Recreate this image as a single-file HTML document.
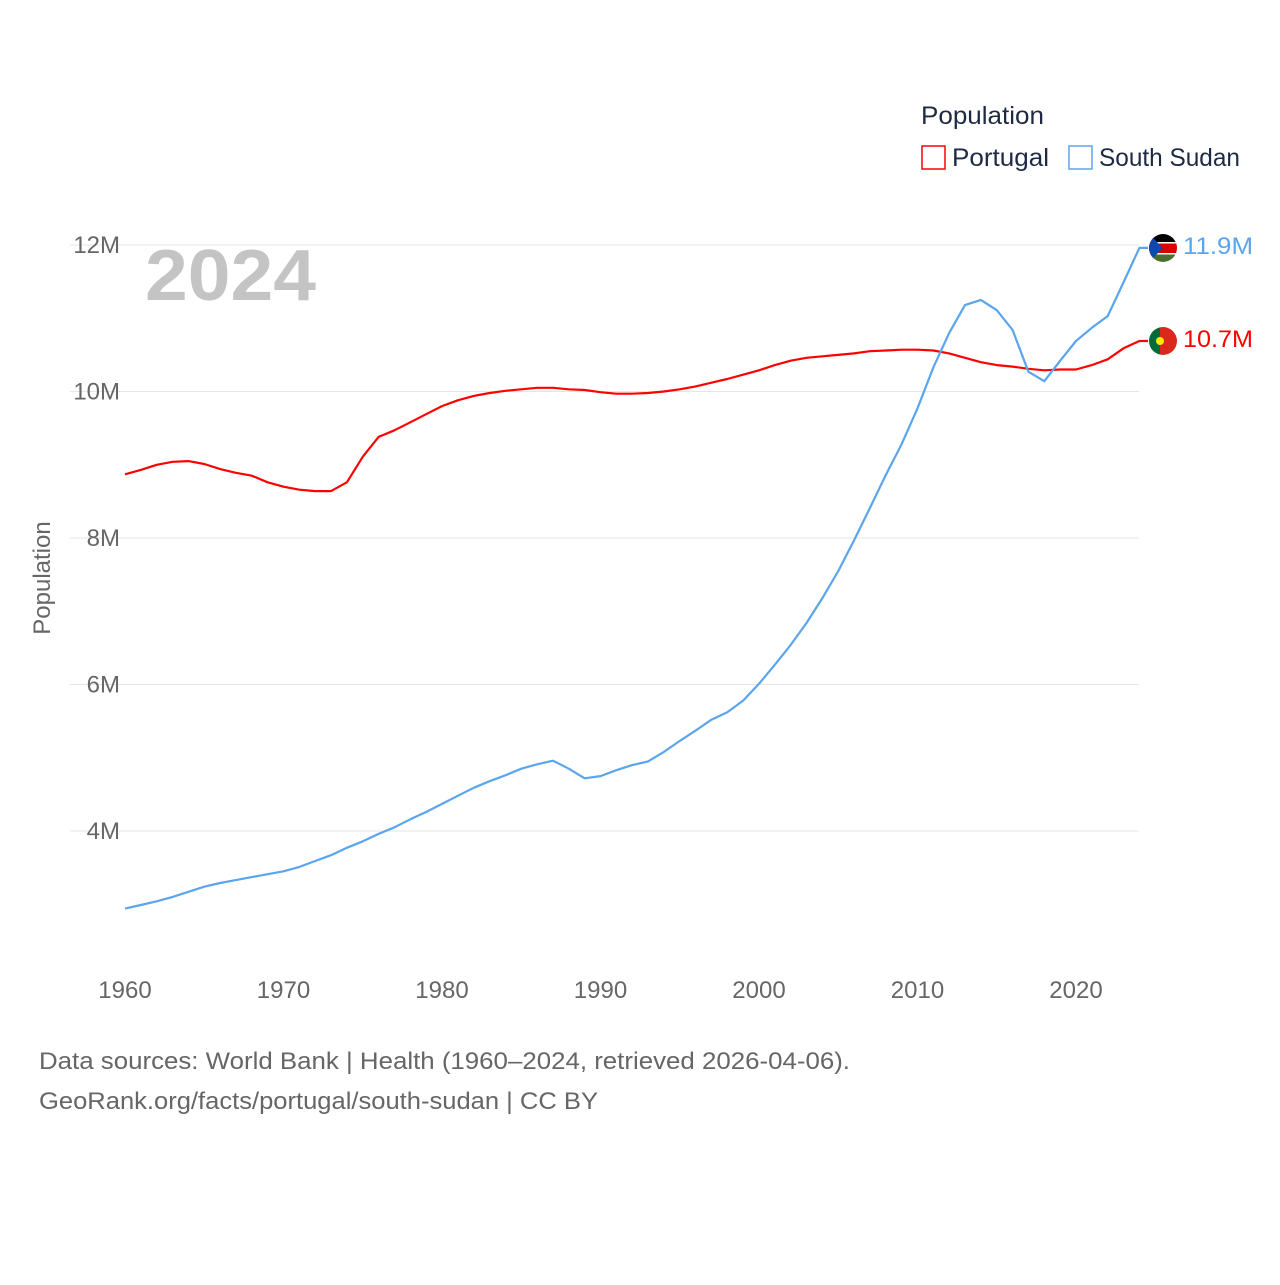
<!DOCTYPE html>
<html><head><meta charset="utf-8"><style>
body{margin:0;background:#fff;}
svg text{font-family:"Liberation Sans",sans-serif;}
</style></head><body>
<svg width="1280" height="1280" viewBox="0 0 1280 1280">
<g id="grid"></g>
<text x="145" y="300" font-size="72" font-weight="bold" fill="#c4c4c4" textLength="171" lengthAdjust="spacingAndGlyphs">2024</text>
<text transform="translate(50,578) rotate(-90)" text-anchor="middle" font-size="24" fill="#666">Population</text>
<g id="xticks"></g>
<g id="lines"></g>
<g>
<text x="921" y="124" font-size="25" fill="#1e2a44" textLength="123" lengthAdjust="spacingAndGlyphs">Population</text>
<rect x="922" y="146" width="23" height="23" fill="none" stroke="#f00" stroke-width="1.5"/>
<text x="952" y="166" font-size="25" fill="#1e2a44" textLength="97" lengthAdjust="spacingAndGlyphs">Portugal</text>
<rect x="1069" y="146" width="23" height="23" fill="none" stroke="#5aa5ee" stroke-width="1.5"/>
<text x="1099" y="166" font-size="25" fill="#1e2a44" textLength="141" lengthAdjust="spacingAndGlyphs">South Sudan</text>
</g>
<g>
<clipPath id="c1"><circle cx="1163" cy="248" r="14"/></clipPath>
<g clip-path="url(#c1)"><rect x="1149" y="234" width="28" height="9" fill="#000"/><rect x="1149" y="243" width="28" height="10" fill="#d00"/><rect x="1149" y="253" width="28" height="9" fill="#4a6e2e"/><rect x="1149" y="242" width="28" height="1.5" fill="#fff"/><rect x="1149" y="253" width="28" height="1.5" fill="#fff"/><polygon points="1149,234 1163,248 1149,262" fill="#0f47af"/></g>
</g>
<g>
<clipPath id="c2"><circle cx="1163" cy="341" r="14"/></clipPath>
<g clip-path="url(#c2)"><rect x="1149" y="327" width="11" height="28" fill="#046a38"/><rect x="1160" y="327" width="17" height="28" fill="#da291c"/><circle cx="1160" cy="341" r="4" fill="#ffe900"/></g>
</g>
<text x="1183" y="254" font-size="24" fill="#5aa5ee" textLength="70" lengthAdjust="spacingAndGlyphs">11.9M</text>
<text x="1183" y="347" font-size="24" fill="#f00" textLength="70" lengthAdjust="spacingAndGlyphs">10.7M</text>
<text x="39" y="1069" font-size="24" fill="#666" textLength="811" lengthAdjust="spacingAndGlyphs">Data sources: World Bank | Health (1960–2024, retrieved 2026-04-06).</text>
<text x="39" y="1109" font-size="24" fill="#666" textLength="559" lengthAdjust="spacingAndGlyphs">GeoRank.org/facts/portugal/south-sudan | CC BY</text>
</svg>
<script>
const years=[];for(let y=1960;y<=2024;y++)years.push(y);
const portugal=[8.87,8.93,9.0,9.04,9.05,9.01,8.94,8.89,8.85,8.76,8.70,8.66,8.64,8.64,8.76,9.11,9.38,9.47,9.58,9.69,9.80,9.88,9.94,9.98,10.01,10.03,10.05,10.05,10.03,10.02,9.99,9.97,9.97,9.98,10.0,10.03,10.07,10.12,10.17,10.23,10.29,10.36,10.42,10.46,10.48,10.50,10.52,10.55,10.56,10.57,10.57,10.56,10.52,10.46,10.40,10.36,10.34,10.31,10.29,10.30,10.30,10.36,10.44,10.59,10.69];
const southSudan=[2.94,2.99,3.04,3.10,3.17,3.24,3.29,3.33,3.37,3.41,3.45,3.51,3.59,3.67,3.77,3.86,3.96,4.05,4.16,4.26,4.37,4.48,4.59,4.68,4.76,4.85,4.91,4.96,4.85,4.72,4.75,4.83,4.90,4.95,5.08,5.23,5.37,5.52,5.62,5.78,6.01,6.27,6.54,6.84,7.18,7.55,7.97,8.41,8.86,9.28,9.77,10.33,10.80,11.18,11.25,11.11,10.84,10.27,10.14,10.42,10.69,10.87,11.03,11.49,11.96];
const yTicks=[4,6,8,10,12];
const xTicks=[1960,1970,1980,1990,2000,2010,2020];
const NS="http://www.w3.org/2000/svg";
const xs=y=>125+(y-1960)*15.85;
const ys=v=>245+(12-v)*73.25;
function mk(t,a,p){const e=document.createElementNS(NS,t);for(const k in a)e.setAttribute(k,a[k]);p.appendChild(e);return e;}
const grid=document.getElementById('grid');
yTicks.forEach(v=>{
 const l=mk('line',{x1:70,x2:1139,y1:ys(v),y2:ys(v),stroke:'#e6e6e6','stroke-width':1},grid);
 
 
 const t=mk('text',{x:120,y:ys(v)+8,'text-anchor':'end','font-size':24,fill:'#666'},grid);
 t.textContent=v+'M';
 
 
});
const xt=document.getElementById('xticks');
xTicks.forEach(y=>{
 const t=mk('text',{x:xs(y),y:998,'text-anchor':'middle','font-size':24,fill:'#666'},xt);
 t.textContent=y;
 
 
});
const lg=document.getElementById('lines');
function line(data,color,name){
 let d=data.map((v,i)=>(i?'L':'M')+xs(years[i]).toFixed(1)+','+ys(v).toFixed(1)).join('');
 d+='L1148,'+ys(data[data.length-1]).toFixed(1);
 const p=mk('path',{d:d,fill:'none',stroke:color,'stroke-width':2.2,'stroke-linejoin':'round'},lg);
 
 
}
line(portugal,'#f00','line-portugal');
line(southSudan,'#5aa5ee','line-south-sudan');
</script>
</body></html>
